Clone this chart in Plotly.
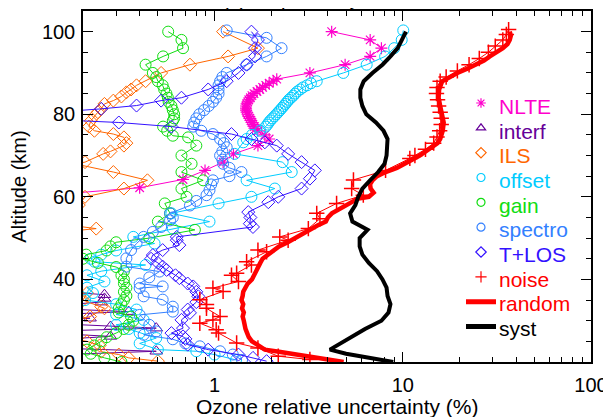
import plotly.graph_objects as go

# ---------------- data ----------------
syst_alt = [100, 98, 96, 94, 92, 90, 88, 86, 84, 82, 80, 78, 76, 74, 72, 70, 68, 66, 64, 62, 60, 58, 56, 54, 52, 50, 48, 46, 44, 42, 40, 38, 36, 34, 32, 30, 28, 26, 24, 23, 22, 21, 20]
syst_x = [10.4, 9.9, 9.4, 8.6, 7.8, 6.9, 6.2, 5.95, 5.95, 6.1, 6.4, 7.2, 7.9, 8.3, 8.3, 8.2, 8.0, 7.4, 6.7, 6.1, 5.8, 5.6, 5.25, 5.4, 6.5, 5.9, 5.9, 6.1, 6.6, 7.3, 7.8, 8.2, 8.3, 8.6, 8.4, 7.7, 6.3, 5.3, 4.4, 4.1, 5.0, 6.8, 8.9]

random_alt = [100, 99, 98, 97, 96, 95, 94, 93, 92, 91, 90, 89, 88, 86, 84, 82, 80, 78, 76, 74, 73, 72, 71, 70, 69, 68, 67, 66, 65, 64, 63, 62, 61, 60, 59.5, 59, 58, 57, 56, 55, 54, 53, 52, 51, 50, 49, 48, 47, 46, 45, 44, 43, 42, 41, 40, 39, 38, 37, 36, 35, 34, 33, 32, 31, 30, 29, 28, 27, 26, 25, 24, 23, 22.5, 22, 21.5, 21, 20.5, 20]
random_x = [37, 37.5, 37, 36, 34, 31, 29, 27, 24.5, 22, 19.5, 17.5, 16.2, 15.6, 15.5, 15.8, 16.2, 16.5, 16.3, 15.8, 15.3, 14.3, 13.3, 12.3, 11.2, 10.2, 9.3, 8.1, 7.3, 6.9, 6.7, 6.75, 7.0, 6.6, 5.7, 5.5, 5.0, 4.6, 4.2, 4.0, 3.9, 3.5, 3.2, 3.0, 2.75, 2.45, 2.2, 2.05, 1.92, 1.8, 1.75, 1.7, 1.66, 1.62, 1.58, 1.5, 1.46, 1.42, 1.41, 1.39, 1.42, 1.40, 1.43, 1.41, 1.43, 1.44, 1.46, 1.49, 1.52, 1.58, 1.7, 1.85, 2.2, 2.6, 3.1, 3.7, 4.3, 4.85]

noise_alt = [100.5, 99.3, 98, 96.5, 95, 93.5, 92, 90.5, 89, 88, 86.5, 85, 83.5, 82, 80.5, 79, 77.5, 76, 74.5, 73, 71.5, 70, 69.3, 66.4, 64.1, 62, 60.4, 58.4, 56, 54.7, 52.3, 50.3, 49.5, 47.1, 46.7, 44.3, 43.5, 41.5, 41, 39.5, 37.9, 37.1, 35.1, 33.9, 33, 31, 30.2, 29.4, 27.8, 27, 24.6, 23.4, 21.4, 20.6]
noise_x = [36.5, 35.5, 34, 31, 28.5, 25.5, 22.5, 19.5, 17, 15.8, 15.2, 15.1, 15.3, 15.5, 15.8, 16.0, 16.0, 15.7, 15.2, 14.6, 13.2, 11.6, 10.9, 8.1, 5.47, 5.35, 6.17, 4.45, 3.49, 3.63, 3.15, 2.22, 2.46, 1.70, 1.89, 1.48, 1.57, 1.31, 1.23, 1.34, 0.98, 1.11, 0.835, 0.906, 0.906, 1.07, 0.98, 0.835, 1.02, 1.05, 1.31, 1.70, 2.18, 3.21]

nlte_alt = [100, 98, 96, 94, 92, 90, 88.5, 88, 87.5, 87, 86.5, 86, 85.5, 85, 84.5, 84, 83.5, 83, 82.5, 82, 81.5, 81, 80.5, 80, 79.5, 79, 78.5, 78, 77.5, 77, 76.5, 76, 75, 74, 72.4, 70.4, 68.4, 66.4, 64.2, 62.2, 60, 58]
nlte_x = [4.19, 6.71, 7.7, 6.71, 4.94, 3.21, 2.14, 2.05, 1.95, 1.87, 1.8, 1.74, 1.68, 1.62, 1.58, 1.55, 1.52, 1.5, 1.48, 1.47, 1.47, 1.47, 1.48, 1.5, 1.52, 1.54, 1.56, 1.58, 1.6, 1.63, 1.66, 1.7, 1.85, 1.95, 1.70, 1.26, 1.11, 0.89, 0.68, 0.40, 0.1, 0.05]

interf_alt = [38, 36.3, 35.4, 34.5, 33.2, 32.2, 31.2, 30.6, 29.6, 28.6, 28.2, 27.3, 26.2, 25, 23.6, 22.6, 21.5, 20.2]
interf_x = [0.08, 0.26, 0.26, 0.25, 0.1, 0.35, 0.1, 0.218, 0.1, 0.28, 0.49, 0.1, 0.28, 0.1, 0.1, 0.49, 0.1, 0.1]

ils_alt = [100, 96, 94, 92, 90, 88, 87, 86, 85.3, 84.3, 83.3, 82.5, 81.3, 80.5, 79.6, 78.4, 77, 76, 75.2, 74.4, 73, 72.4, 71, 70.4, 68.4, 68, 66, 64, 62, 60, 58, 56, 54, 52.3, 51, 48, 44, 40, 37.5, 36.7, 35, 33.4, 33, 31, 29, 27, 25, 24, 22.5, 21.8, 21, 20.2]
ils_x = [1.11, 1.70, 1.18, 0.74, 0.52, 0.43, 0.385, 0.36, 0.34, 0.32, 0.29, 0.26, 0.25, 0.24, 0.23, 0.22, 0.215, 0.23, 0.29, 0.33, 0.34, 0.33, 0.28, 0.256, 0.205, 0.18, 0.29, 0.44, 0.33, 0.205, 0.19, 0.15, 0.12, 0.235, 0.12, 0.1, 0.1, 0.1, 0.15, 0.21, 0.2, 0.25, 0.26, 0.218, 0.15, 0.12, 0.21, 0.245, 0.25, 0.31, 0.35, 0.5]

offset_alt = [100.3, 98, 96, 94, 92, 90, 88, 87.5, 87, 86.5, 86, 85.5, 85, 84.5, 84, 83.5, 83, 82.5, 82, 81.5, 81, 80.5, 80, 79.5, 79, 78.5, 78, 77.5, 77, 76, 75, 74, 73.2, 70.4, 68.4, 66, 64, 62, 60, 58.4, 56, 54, 52.3, 50.3, 48.7, 47, 46, 45, 44.3, 43.5, 42, 41, 39.5, 38, 36.7, 35, 34, 32.7, 31.5, 30.2, 29, 28, 27, 25.8, 24.5, 23, 22.6, 21.8, 20.5]
offset_x = [10.06, 9.87, 9.0, 8.06, 6.43, 4.83, 3.49, 3.25, 3.1, 2.95, 2.85, 2.75, 2.68, 2.62, 2.55, 2.48, 2.43, 2.38, 2.33, 2.28, 2.23, 2.18, 2.13, 2.08, 2.03, 1.98, 1.94, 1.91, 1.87, 1.75, 1.58, 1.48, 1.42, 1.28, 2.3, 2.57, 1.48, 2.09, 1.57, 1.05, 0.59, 0.94, 0.6, 0.37, 0.48, 0.3, 0.25, 0.22, 0.23, 0.43, 0.25, 0.21, 0.26, 0.21, 0.226, 0.205, 0.3, 0.385, 0.3, 0.42, 0.3, 0.35, 0.4, 0.49, 0.4, 0.50, 0.80, 1.0, 1.3]

gain_alt = [100, 98, 96, 94, 92, 90, 89, 88, 87, 86, 85, 84, 83, 82, 81, 80, 79, 78.4, 77, 76, 74.8, 74.4, 72.4, 70, 68, 66, 64, 62, 60, 58.4, 56, 54, 52, 50, 49, 48, 47, 46, 45, 44, 43, 42, 41, 40, 39, 38, 37, 36, 35, 34, 33, 32, 31, 30, 29, 28, 27, 26, 25, 24, 23, 22, 21, 20]
gain_x = [0.567, 0.667, 0.68, 0.533, 0.43, 0.47, 0.49, 0.50, 0.53, 0.54, 0.555, 0.565, 0.57, 0.59, 0.60, 0.61, 0.61, 0.60, 0.533, 0.56, 0.60, 0.724, 0.80, 0.667, 0.755, 0.667, 0.87, 0.667, 0.71, 0.544, 0.58, 0.50, 0.786, 0.45, 0.30, 0.28, 0.267, 0.208, 0.2, 0.24, 0.30, 0.33, 0.32, 0.33, 0.33, 0.34, 0.33, 0.34, 0.33, 0.32, 0.31, 0.31, 0.36, 0.37, 0.35, 0.33, 0.30, 0.267, 0.25, 0.23, 0.21, 0.22, 0.26, 0.32]

spectro_alt = [100.3, 98.5, 96, 94, 92, 90, 89, 88, 87, 86, 85, 84, 83, 82, 81, 80, 79, 78, 77, 76, 75.2, 74, 73, 72, 71, 70, 69, 68, 67, 66, 65, 64, 63, 61.6, 60.4, 59, 57.9, 56, 55, 54.3, 52.7, 51.5, 50.3, 48.7, 47.1, 45.1, 43.1, 41.9, 40.5, 39, 38.3, 37.9, 35.9, 35.1, 33.4, 32.2, 31.4, 29, 27.4, 26.6, 25.5, 24.5, 23.8, 22.6, 21.8, 20.5]
spectro_x = [1.16, 1.89, 2.27, 1.89, 1.48, 1.16, 1.1, 1.07, 1.05, 1.05, 1.05, 1.02, 0.98, 0.93, 0.88, 0.83, 0.8, 0.78, 0.77, 0.85, 0.98, 1.07, 1.12, 1.16, 1.1, 1.07, 1.1, 1.11, 1.2, 1.39, 1.2, 0.98, 0.96, 0.94, 0.906, 0.8, 0.74, 0.58, 0.6, 0.58, 0.52, 0.47, 0.42, 0.385, 0.36, 0.34, 0.34, 0.51, 0.45, 0.40, 0.53, 0.40, 0.42, 0.53, 0.60, 0.60, 0.40, 0.45, 0.49, 0.42, 0.6, 0.7, 0.835, 1.07, 1.25, 1.4]

tlos_alt = [100, 98, 96, 94, 92, 90, 88, 86, 84, 83.3, 82.1, 81.3, 80, 79, 78, 77, 75.2, 74, 73.2, 72.4, 70.4, 68.4, 66.4, 64.4, 62, 60, 58.7, 56.3, 55, 53.5, 52.7, 50.3, 49.5, 48.3, 47.1, 45.9, 45, 44, 43.1, 42.3, 41, 40.3, 39, 38.3, 37, 35.9, 34.5, 32.7, 31.9, 30.2, 28.2, 27, 26.2, 25.6, 24.2, 23, 21.8, 21, 20.2]
tlos_x = [1.57, 1.70, 1.64, 1.64, 1.48, 1.34, 1.16, 0.925, 0.667, 0.52, 0.385, 0.25, 0.1, 0.1, 0.31, 0.59, 1.23, 1.57, 1.85, 2.14, 2.46, 2.9, 3.41, 3.21, 2.9, 2.18, 1.93, 1.51, 1.55, 1.54, 1.6, 0.63, 0.63, 0.65, 0.53, 0.47, 0.46, 0.5, 0.53, 0.556, 0.62, 0.65, 0.72, 0.77, 0.80, 0.82, 0.80, 0.72, 0.74, 0.667, 0.68, 0.59, 0.68, 0.7, 0.72, 0.925, 1.34, 1.6, 1.89]

legend_labels = ["NLTE", "interf", "ILS", "offset", "gain", "spectro", "T+LOS", "noise", "random", "syst"]
x_tick_vals = [1, 10, 100]
x_tick_text = ["1", "10", "100"]
y_tick_vals = [20, 40, 60, 80, 100]
title_text = "(a) Tropical day"
x_title = "Ozone relative uncertainty (%)"
y_title = "Altitude (km)"

# ---------------- styles ----------------
FONT = "Liberation Sans, Arial, Helvetica, sans-serif"
C_NLTE = "#ff00cc"
C_INTERF = "#660099"
C_ILS = "#ff6600"
C_OFFSET = "#00ccff"
C_GAIN = "#11dd11"
C_SPECTRO = "#3380ff"
C_TLOS = "#3311ff"
C_RED = "#ff0000"

marker_series = [
    (nlte_x, nlte_alt, C_NLTE, "asterisk-open", 10, 1.2),
    (interf_x, interf_alt, C_INTERF, "triangle-up-open", 11, 1.0),
    (ils_x, ils_alt, C_ILS, "diamond-open", 10, 1.0),
    (offset_x, offset_alt, C_OFFSET, "circle-open", 11, 1.0),
    (gain_x, gain_alt, C_GAIN, "circle-open", 11, 1.0),
    (spectro_x, spectro_alt, C_SPECTRO, "circle-open", 11, 1.0),
    (tlos_x, tlos_alt, C_TLOS, "diamond-open", 10, 1.0),
    (noise_x, noise_alt, C_RED, "cross-thin-open", 11, 1.5),
]
label_colors = [C_NLTE, C_INTERF, C_ILS, C_OFFSET, C_GAIN, C_SPECTRO, C_TLOS, C_RED, C_RED, "black"]

# page body adds 8px offset; plot frame lands at x 83..591, y 9..362 of the window
ML, MR, MT, MB = 75, 28, 1, 63
W, H = 611, 417
PH = H - MT - MB
PW = W - ML - MR


def px_to_paper_y(win_y):
    return 1 - ((win_y - 8) - MT) / PH


def px_to_paper_x(win_x):
    return ((win_x - 8) - ML) / PW


fig = go.Figure()

for xs, ys, col, sym, sz, lw in marker_series:
    fig.add_trace(go.Scatter(
        x=xs, y=ys, mode="lines+markers", showlegend=False,
        line=dict(color=col, width=1),
        marker=dict(symbol=sym, size=sz, color=col, line=dict(color=col, width=lw)),
    ))

fig.add_trace(go.Scatter(x=random_x, y=random_alt, mode="lines", showlegend=False,
                         line=dict(color=C_RED, width=4.5)))
fig.add_trace(go.Scatter(x=syst_x, y=syst_alt, mode="lines", showlegend=False,
                         line=dict(color="black", width=4)))

# legend symbols (symbol-only entries); their labels are drawn as coloured text below
for i, (xs, ys, col, sym, sz, lw) in enumerate(marker_series):
    fig.add_trace(go.Scatter(
        x=[None], y=[None], mode="markers", name=" " * (i + 1),
        marker=dict(symbol=sym, size=8, color=col, line=dict(color=col, width=1.2)),
    ))
fig.add_trace(go.Scatter(x=[None], y=[None], mode="lines", name=" " * 9,
                         line=dict(color=C_RED, width=5)))
fig.add_trace(go.Scatter(x=[None], y=[None], mode="lines", name=" " * 10,
                         line=dict(color="black", width=5)))

# legend label texts
ROW0_WIN = 105.0   # window-pixel centre of the first legend row
ROW_STEP = 24.8
annotations = []
for i, (lab, col) in enumerate(zip(legend_labels, label_colors)):
    annotations.append(dict(
        text=lab, xref="paper", yref="paper",
        x=px_to_paper_x(497), y=px_to_paper_y(ROW0_WIN + i * ROW_STEP),
        xanchor="left", yanchor="middle", showarrow=False,
        font=dict(size=21, family=FONT, color=col)))
# x-axis title
annotations.append(dict(text=x_title, xref="paper", yref="paper",
                        x=0.5, y=px_to_paper_y(407),
                        xanchor="center", yanchor="middle", showarrow=False,
                        font=dict(size=21, family=FONT)))
# panel title (mostly above the visible page, as in the reference)
annotations.append(dict(text=title_text, xref="paper", yref="paper", x=0.41, y=1,
                        xanchor="center", yanchor="bottom", yshift=0, showarrow=False,
                        font=dict(size=20, family=FONT)))

legend_top_win = ROW0_WIN - 21
fig.update_layout(
    width=W, height=H,
    margin=dict(l=ML, r=MR, t=MT, b=MB),
    paper_bgcolor="white", plot_bgcolor="white",
    font=dict(family=FONT, size=20, color="black"),
    showlegend=True,
    legend=dict(x=px_to_paper_x(461), y=px_to_paper_y(legend_top_win),
                xanchor="left", yanchor="top",
                bgcolor="rgba(0,0,0,0)", borderwidth=0,
                font=dict(size=16.8, family=FONT), tracegroupgap=0),
    xaxis=dict(
        type="log", range=[-0.69897, 2], showgrid=False, zeroline=False,
        showline=True, linecolor="black", linewidth=1.5, mirror="allticks",
        ticks="inside", ticklen=10, tickwidth=1, tickcolor="black",
        tickmode="array", tickvals=x_tick_vals, ticktext=x_tick_text,
        ticklabelstandoff=4,
        minor=dict(ticks="inside", ticklen=5, tickwidth=1, tickcolor="black",
                   tickmode="array",
                   tickvals=[0.3, 0.4, 0.5, 0.6, 0.7, 0.8, 0.9, 2, 3, 4, 5, 6, 7, 8, 9,
                             20, 30, 40, 50, 60, 70, 80, 90]),
    ),
    yaxis=dict(
        range=[20, 105], showgrid=False, zeroline=False,
        showline=True, linecolor="black", linewidth=1.5, mirror="allticks",
        ticks="inside", ticklen=10, tickwidth=1, tickcolor="black",
        tickmode="array", tickvals=y_tick_vals,
        ticklabelstandoff=2,
        minor=dict(ticks="inside", ticklen=5, tickwidth=1, tickcolor="black", dtick=5),
        title=dict(text=y_title, standoff=13, font=dict(size=20)),
    ),
    annotations=annotations,
)

fig.write_html("out.html")
